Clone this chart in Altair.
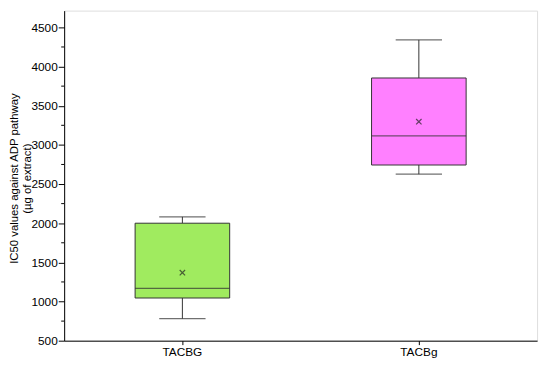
import altair as alt
import pandas as pd

categories = ["TACBG", "TACBg"]
mins = [781, 2626]
q1s = [1045, 2743]
medians = [1167, 3116]
q3s = [2000, 3854]
maxs = [2081, 4340]
means = [1368, 3296]
colors = ["#A0EB5F", "#FF80FF"]

y_ticks = list(range(500, 4501, 500))
minor_ticks = list(range(750, 4751, 500))

df = pd.DataFrame({
    "cat": categories, "min": mins, "q1": q1s, "median": medians,
    "q3": q3s, "max": maxs, "mean": means, "color": colors,
})
minor_df = pd.DataFrame({"v": [v for v in minor_ticks if v <= 4714]})

FONT = "Liberation Sans"
ydom = [500, 4714]

x_enc = alt.X("cat:N", sort=categories,
              scale=alt.Scale(paddingInner=0, paddingOuter=0),
              axis=alt.Axis(title=None, labelAngle=0, tickSize=4, labelPadding=2))
y_scale = alt.Scale(domain=ydom, nice=False, zero=False)
y_axis = alt.Axis(title=["IC50 values against ADP pathway", "(µg of extract)"],
                  values=y_ticks, format="d", grid=False, tickSize=6, labelPadding=1,
                  titleAngle=-90, titleX=-56, titleY=170, titleAlign="center",
                  titleBaseline="top", titleLineHeight=13, titleFontSize=11.5)

base = alt.Chart(df)

lower = base.mark_rule(color="#333", strokeWidth=1).encode(
    x=x_enc, y=alt.Y("min:Q", scale=y_scale, axis=y_axis), y2="q1:Q")
upper = base.mark_rule(color="#333", strokeWidth=1).encode(
    x=alt.X("cat:N", sort=categories), y=alt.Y("q3:Q"), y2="max:Q")
caps_lo = base.mark_tick(color="#333", size=47, thickness=1.2, orient="horizontal").encode(
    x=alt.X("cat:N", sort=categories), y="min:Q")
caps_hi = base.mark_tick(color="#333", size=47, thickness=1.2, orient="horizontal").encode(
    x=alt.X("cat:N", sort=categories), y="max:Q")
box = base.mark_bar(width={"band": 0.4}, stroke="#333", strokeWidth=1).encode(
    x=alt.X("cat:N", sort=categories), y="q1:Q", y2="q3:Q",
    fill=alt.Fill("color:N", scale=None))
med = base.mark_tick(color="#333", size=96, thickness=1.3, orient="horizontal").encode(
    x=alt.X("cat:N", sort=categories), y="median:Q")
mean_pt = base.mark_point(shape="M-1,-1L1,1M-1,1L1,-1", size=30, color="#222",
                          strokeWidth=1.2, filled=False).encode(
    x=alt.X("cat:N", sort=categories), y="mean:Q")
minor = alt.Chart(minor_df).mark_rule(color="#000", strokeWidth=1).encode(
    x=alt.value(-3), x2=alt.value(0), y=alt.Y("v:Q"))

chart = alt.layer(lower, upper, caps_lo, caps_hi, box, med, mean_pt, minor).properties(
    width=480, height=335,
    autosize=alt.AutoSizeParams(type="none"),
    padding={"left": 57, "top": 0, "right": 5, "bottom": 22},
).configure_view(stroke="#666", strokeWidth=1).configure(background="white"
).configure_axis(labelFont=FONT, labelFontSize=12, labelColor="#000", tickColor="#000",
                 domainColor="#000", titleFont=FONT, titleFontSize=12,
                 titleFontWeight="normal", titleColor="#000", grid=False)

chart.save("out.html", embed_options={"renderer": "svg", "actions": False})
